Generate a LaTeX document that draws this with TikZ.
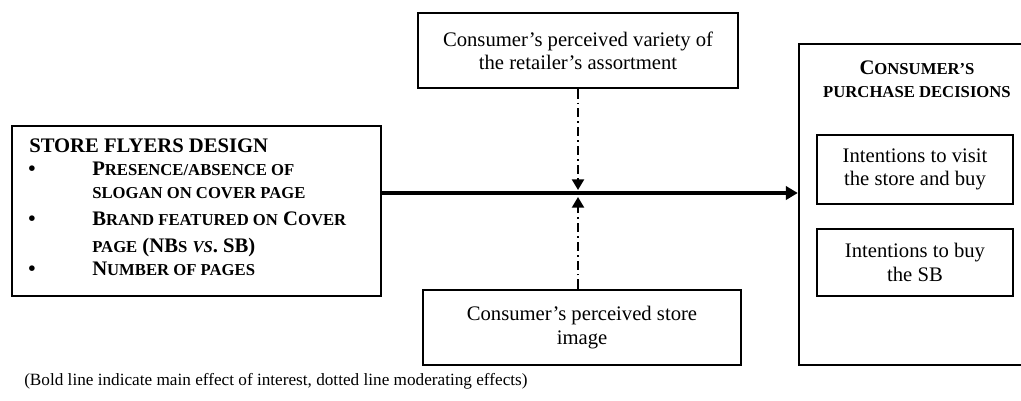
\documentclass[tikz,border=0pt]{standalone}
\usepackage{fontspec}
\setmainfont{Liberation Serif}
\usetikzlibrary{arrows.meta}
\newcommand\mfont{\fontsize{15.5}{17.4}\selectfont}
\newcommand\scs[1]{{\fontsize{12.5}{14}\selectfont #1}}
\begin{document}
\begin{tikzpicture}[x=0.75pt,y=-0.75pt,
  box/.style={draw, line width=1.8pt, inner sep=0pt, align=center, font=\mfont},
  txt/.style={inner sep=0pt, anchor=base west, font=\mfont\bfseries},
  mod/.style={line width=1.6pt, dash pattern=on 7pt off 3pt on 1.2pt off 3pt, -{Triangle[length=8pt,width=9pt]}},
  main/.style={line width=2.8pt, -{Triangle[length=9pt,width=10pt]}}]
\useasboundingbox (0,0) rectangle (1021,400);
\clip (0,0) rectangle (1021,400);
% boxes
\node[box, minimum width=240pt, minimum height=56.25pt] (tbox) at (578,50.5)
  {Consumer’s perceived variety of\\the retailer’s assortment};
\node[box, minimum width=238.5pt, minimum height=56.25pt] (bbox) at (582,327.5)
  {Consumer’s perceived store\\image};
\node[box, minimum width=276.75pt, minimum height=127.5pt] (lbox) at (196.5,211) {};
\node[box, minimum width=177pt, minimum height=240.75pt] (rbox) at (917,204.5) {};
\node[box, minimum width=147pt, minimum height=51.75pt] (i1) at (915,169.5)
  {Intentions to visit\\the store and buy};
\node[box, minimum width=147pt, minimum height=50.25pt] (i2) at (915,262.5)
  {Intentions to buy\\the SB};
% left box text
\node[txt] (l0) at (29,152) {STORE FLYERS DESIGN};
\node[txt] (l1) at (92,175) {P\scs{RESENCE/ABSENCE OF}};
\node[txt] (l2) at (92,198) {\scs{SLOGAN ON COVER PAGE}};
\node[txt] (l3) at (92,225) {B\scs{RAND FEATURED ON} C\scs{OVER}};
\node[txt] (l4) at (92,252) {\scs{PAGE} (NB\scs{S} \textit{\scs{VS}}. SB)};
\node[txt] (l5) at (92,275) {N\scs{UMBER OF PAGES}};
\node[txt] (d1) at (28,175) {•};
\node[txt] (d2) at (28,225) {•};
\node[txt] (d3) at (28,275) {•};
% right box header
\node[inner sep=0pt, anchor=base, font=\mfont\bfseries] (h1) at (917,74) {C\scs{ONSUMER’S}};
\node[inner sep=0pt, anchor=base, font=\mfont\bfseries] (h2) at (917,97) {\scs{PURCHASE DECISIONS}};
% caption
\node[inner sep=0pt, anchor=base west, font=\fontsize{12.9}{15}\selectfont] (cap) at (24,385)
  {(Bold line indicate main effect of interest, dotted line moderating effects)};
% connectors
\coordinate (ay) at (0,193);
\coordinate (mt) at (578,190);
\coordinate (mb) at (578,197);
\draw[main] (lbox.east |- ay) -- (rbox.west |- ay);
\draw[mod] (tbox.south) -- (mt);
\draw[mod] (mb |- bbox.north) -- (mb);
\end{tikzpicture}
\end{document}
